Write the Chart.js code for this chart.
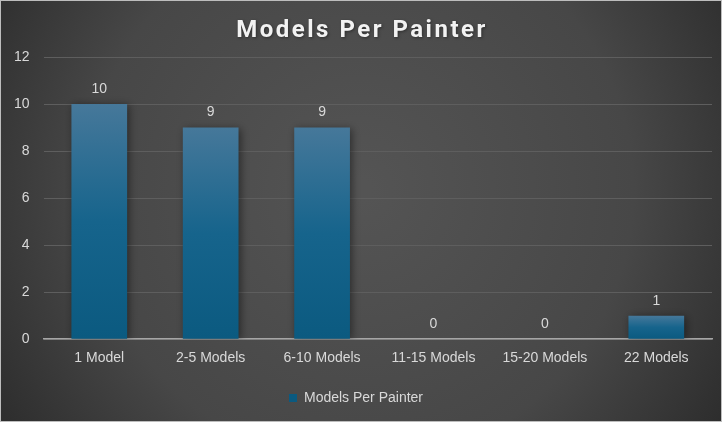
<!DOCTYPE html>
<html><head><meta charset="utf-8">
<script src="https://cdn.jsdelivr.net/npm/chart.js@4.4.0/dist/chart.umd.min.js"></script>
<style>html,body{margin:0;padding:0;background:#2b2b2b}#wrap{width:722px;height:422px;position:relative}</style>
</head><body><div id="wrap"><canvas id="c" width="722" height="422"></canvas></div>
<script>
const categories = ["1 Model","2-5 Models","6-10 Models","11-15 Models","15-20 Models","22 Models"];
const values = [10, 9, 9, 0, 0, 1];
const seriesName = "Models Per Painter";
const yTicks = [0,2,4,6,8,10,12];

const bgPlugin = {
  id:'bg',
  beforeDraw(chart){
    const {ctx,width,height} = chart;
    ctx.save();
    const g = ctx.createRadialGradient(width/2, height*0.45, 10, width/2, height*0.45, width*0.62);
    g.addColorStop(0,'#545454');
    g.addColorStop(0.6,'#474747');
    g.addColorStop(1,'#2a2a2a');
    ctx.fillStyle = g;
    ctx.fillRect(0,0,width,height);
    ctx.strokeStyle = '#bdbdbd';
    ctx.lineWidth = 1;
    ctx.strokeRect(0.5,0.5,width-1,height-1);
    ctx.restore();
  },
  afterDraw(chart){
    const ctx = chart.ctx; ctx.save();
    ctx.fillStyle='#f2f2f2'; ctx.font='bold 24px Roboto, sans-serif';
    ctx.letterSpacing='2.5px';
    ctx.textAlign='center'; ctx.textBaseline='middle';
    ctx.shadowColor='rgba(0,0,0,0.4)'; ctx.shadowBlur=3; ctx.shadowOffsetX=1; ctx.shadowOffsetY=1;
    ctx.fillText(seriesName, chart.width/2+1, 31);
    ctx.restore();
  }
};
const shadowPlugin = {
  id:'shadow',
  beforeDatasetsDraw(chart){
    const ctx = chart.ctx; ctx.save();
    ctx.shadowColor='rgba(0,0,0,0.45)'; ctx.shadowBlur=8; ctx.shadowOffsetX=2; ctx.shadowOffsetY=1;
  },
  afterDatasetsDraw(chart){ chart.ctx.restore(); }
};
const labelPlugin = {
  id:'labels',
  afterDatasetsDraw(chart){
    const ctx = chart.ctx; const meta = chart.getDatasetMeta(0);
    ctx.save();
    ctx.fillStyle='#d9d9d9'; ctx.font='14px "Liberation Sans", Arial, sans-serif';
    ctx.textAlign='center'; ctx.textBaseline='bottom';
    meta.data.forEach((el,i)=>{ ctx.fillText(String(values[i]), el.x, el.y-8); });
    ctx.restore();
  }
};
new Chart(document.getElementById('c'),{
  type:'bar',
  data:{labels:categories,datasets:[{label:seriesName,data:values,
    backgroundColor(ctx){
      const chart=ctx.chart; const ca=chart.chartArea; if(!ca) return '#1a6a92';
      const ys=chart.scales.y; const top=ys.getPixelForValue(ctx.raw||0); const bot=ys.getPixelForValue(0);
      if(bot-top<1) return '#1a6a92';
      const g=chart.ctx.createLinearGradient(0,top,0,bot);
      g.addColorStop(0,'#46789a'); g.addColorStop(0.5,'#16648c'); g.addColorStop(1,'#0b5a80');
      return g;
    },
    borderWidth:0, barPercentage:0.5, categoryPercentage:1.0}]},
  options:{
    responsive:false, animation:false, devicePixelRatio:1,
    layout:{padding:{left:0,right:10,top:57,bottom:7}},
    plugins:{
      title:{display:false},
      legend:{position:'bottom',labels:{color:'#d9d9d9',font:{family:'"Liberation Sans", Arial',size:14},boxWidth:8,boxHeight:8,padding:21}},
      tooltip:{enabled:false}
    },
    scales:{
      x:{grid:{display:false},border:{color:'#a6a6a6',width:1.5},
        ticks:{color:'#d9d9d9',font:{family:'"Liberation Sans", Arial',size:14},padding:3}},
      y:{min:0,max:12,afterBuildTicks(ax){ax.ticks=yTicks.map(v=>({value:v}));},
        grid:{color:'#5e5e5e',lineWidth:1,drawTicks:false},border:{display:false},
        ticks:{color:'#d9d9d9',font:{family:'"Liberation Sans", Arial',size:14},padding:14}}
    }
  },
  plugins:[bgPlugin,shadowPlugin,labelPlugin]
});
</script></body></html>
